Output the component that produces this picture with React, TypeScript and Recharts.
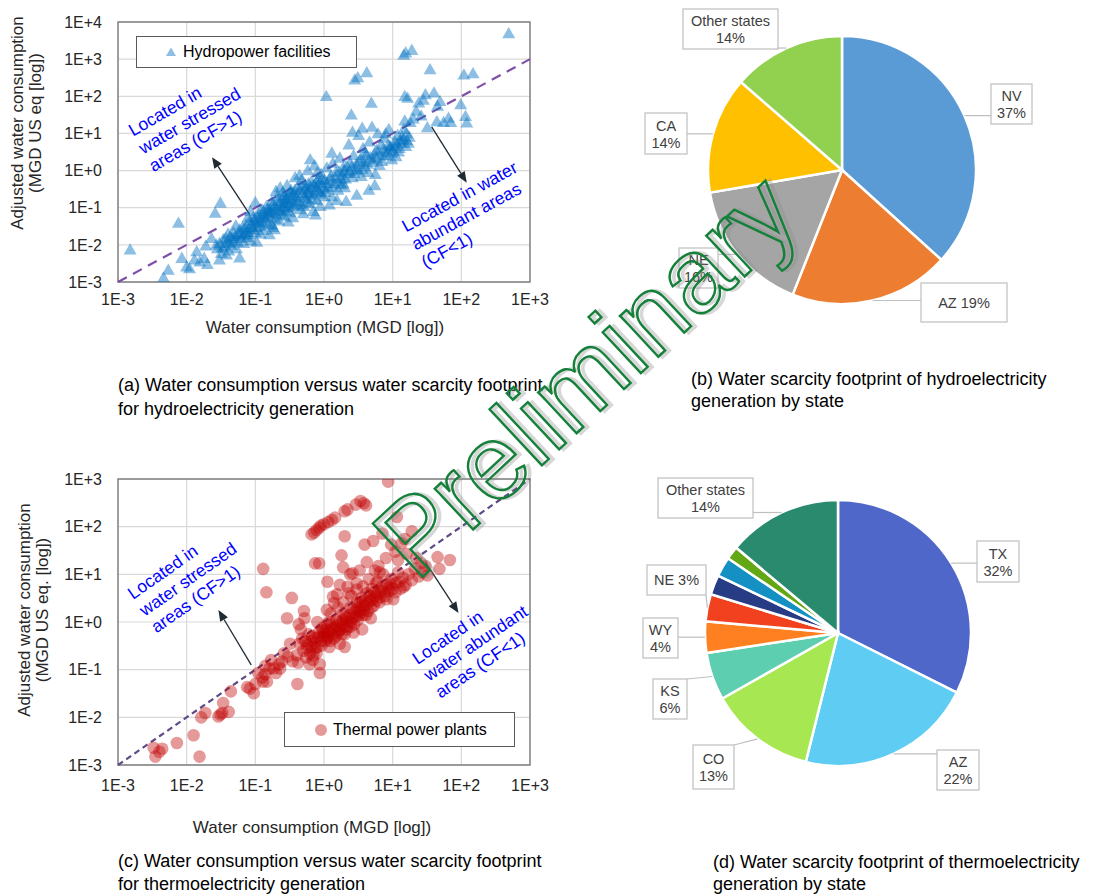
import {
  ScatterChart,
  Scatter,
  XAxis,
  YAxis,
  CartesianGrid,
  ReferenceLine,
  ReferenceArea,
  ReferenceDot,
  Legend,
  PieChart,
  Pie,
  Cell,
} from 'recharts'

const FONT = '"Liberation Sans", Arial, Helvetica, sans-serif'

type Pt = [number, number]

// ---- scatter data ----
const xTicks = [1e-3, 1e-2, 1e-1, 1, 1e1, 1e2, 1e3]
const hydroYTicks = [1e-3, 1e-2, 1e-1, 1, 1e1, 1e2, 1e3, 1e4]
const thermalYTicks = [1e-3, 1e-2, 1e-1, 1, 1e1, 1e2, 1e3]

// [water consumption, adjusted water consumption]
const hydroPoints: Pt[] = [
  [1.5e-3, 7.4e-3], [4.6e-3, 1.3e-3], [5.4e-3, 2.1e-3], [7.6e-3, 3.9e-2], [8.5e-3, 4.4e-3],
  [1.0e-2, 2.6e-3], [1.1e-2, 2.3e-3], [1.4e-2, 6.6e-3], [1.55e-2, 3.5e-3], [1.8e-2, 4.4e-3],
  [2.0e-2, 3.0e-3], [2.3e-2, 1.5e-2], [2.6e-2, 7.2e-2], [3.1e-2, 1.35e-1], [3.0e-2, 4.0e-3],
  [3.8e-2, 5.4e-3], [1.9e-2, 9.5e-3], [1.3e-2, 4.0e-3],
  [2.8e-2, 8.0e-3], [3.0e-2, 1.1e-2], [3.2e-2, 6.0e-3], [3.4e-2, 1.4e-2], [3.6e-2, 9.0e-3],
  [3.9e-2, 1.2e-2], [4.1e-2, 7.0e-3], [4.3e-2, 1.7e-2], [4.5e-2, 1.0e-2], [4.8e-2, 2.2e-2],
  [5.0e-2, 1.3e-2], [5.3e-2, 8.0e-3], [5.6e-2, 1.9e-2], [5.9e-2, 2.6e-2], [6.2e-2, 1.5e-2],
  [6.5e-2, 3.0e-2], [4.0e-2, 2.0e-2], [5.2e-2, 3.3e-2], [6.8e-2, 1.1e-2], [5.9e-2, 4.5e-3],
  [7.0e-2, 2.0e-2], [7.3e-2, 3.5e-2], [7.6e-2, 1.6e-2], [8.0e-2, 2.6e-2], [8.3e-2, 4.5e-2],
  [8.6e-2, 1.3e-2], [9.0e-2, 3.0e-2], [9.4e-2, 5.5e-2], [9.8e-2, 2.2e-2], [1.02e-1, 4.0e-2],
  [1.05e-1, 1.2e-2], [1.1e-1, 7.0e-2], [1.15e-1, 3.2e-2], [1.2e-1, 5.0e-2], [1.25e-1, 9.0e-2],
  [1.3e-1, 2.5e-2], [1.35e-1, 6.0e-2], [1.4e-1, 4.2e-2], [1.45e-1, 1.1e-1], [1.5e-1, 7.5e-2],
  [1.55e-1, 3.5e-2], [1.0e-1, 1.4e-1], [8.5e-2, 8.0e-2], [1.6e-1, 1.9e-2], [7.8e-2, 5.5e-2],
  [1.18e-1, 2.0e-2],
  [1.65e-1, 9.0e-2], [1.7e-1, 5.5e-2], [1.75e-1, 1.5e-1], [1.8e-1, 3.0e-2], [1.9e-1, 1.1e-1],
  [2.0e-1, 7.0e-2], [2.1e-1, 2.0e-1], [2.2e-1, 4.5e-2], [2.3e-1, 1.3e-1], [2.4e-1, 8.5e-2],
  [2.5e-1, 2.6e-1], [2.6e-1, 6.0e-2], [2.7e-1, 1.7e-1], [2.8e-1, 1.0e-1], [2.9e-1, 4.0e-1],
  [3.0e-1, 2.2e-1], [3.1e-1, 1.3e-1], [3.2e-1, 7.5e-2], [3.3e-1, 3.0e-1], [3.4e-1, 1.6e-1],
  [3.5e-1, 5.5e-2], [3.6e-1, 2.5e-1], [3.7e-1, 1.2e-1], [3.8e-1, 6.5e-1], [3.9e-1, 1.9e-1],
  [2.3e-1, 3.5e-1], [1.9e-1, 2.6e-2], [2.6e-1, 1.3e-1], [3.0e-1, 4.2e-2], [2.0e-1, 2.8e-1],
  [1.75e-1, 3.5e-2],
  [4.1e-1, 3.5e-1], [4.3e-1, 1.5e-1], [4.5e-1, 9.0e-2], [4.7e-1, 5.5e-1], [4.9e-1, 2.5e-1],
  [5.1e-1, 1.1e-1], [5.3e-1, 4.0e-1], [5.5e-1, 1.8e-1], [5.8e-1, 1.0], [6.0e-1, 3.0e-1],
  [6.2e-1, 1.3e-1], [6.5e-1, 5.0e-1], [6.8e-1, 2.2e-1], [7.0e-1, 8.0e-2], [7.3e-1, 1.4],
  [7.6e-1, 3.5e-1], [7.9e-1, 1.6e-1], [8.2e-1, 6.0e-1], [8.5e-1, 2.8e-1], [8.8e-1, 1.1e-1],
  [9.1e-1, 8.0e-1], [9.5e-1, 4.0e-1], [9.8e-1, 2.0e-1], [5.0e-1, 7.0e-2], [6.3e-1, 2.0],
  [4.4e-1, 7.5e-1], [7.5e-1, 6.5e-2], [5.7e-1, 2.5e-1], [8.0e-1, 9.0e-1],
  [1.02, 5.5e-1], [1.05, 2.6e-1], [1.08, 1.0e2], [1.1, 1.2], [1.15, 3.5e-1],
  [1.2, 1.2e-1], [1.25, 7.0e-1], [1.3, 2.0e-1], [1.35, 1.6], [1.4, 4.5e-1],
  [1.5, 9.0e-1], [1.55, 1.6e-1], [1.6, 3.0e-1], [1.7, 2.2], [1.8, 6.0e-1],
  [1.9, 1.2], [2.0, 3.5e-1], [2.1, 1.5e-1], [2.2, 8.5e-1], [2.3, 5.0],
  [2.4, 1.6], [2.5, 3.2e1], [2.6, 6.5e-1], [2.7, 2.6], [2.8, 2.8e2],
  [2.9, 1.1], [3.0, 2.2e-1], [3.1, 3.2e2], [3.2, 9.0], [1.3, 3.0],
  [1.9, 4.5e-1], [2.6, 1.1e1],
  [3.3, 1.8], [3.5, 7.0e-1], [3.7, 4.0], [3.9, 1.3], [4.2, 4.4e2],
  [4.1, 2.6], [4.4, 9.0e-1], [4.6, 6.0], [4.9, 6.6e1], [5.0, 1.5e1],
  [5.2, 2.0], [5.5, 4.0e-1], [5.8, 3.5], [6.1, 1.0e1], [6.4, 1.4],
  [6.8, 5.0], [7.2, 2.5], [7.6, 7.5], [7.9, 1.0e1], [8.3, 3.2],
  [8.8, 1.3e1], [9.2, 4.5], [9.7, 2.0], [3.6, 1.4e1], [4.5, 3.0e-1],
  [5.6, 8.0e-1],
  [1.02e1, 3.5], [1.08e1, 6.0], [1.12e1, 2.4], [1.18e1, 9.0], [1.25e1, 4.0],
  [1.3e1, 6.5], [1.37e1, 8.3], [1.45e1, 1.3e1], [1.5e1, 2.2e1], [1.55e1, 4.5],
  [1.6e1, 1.0e1], [1.7e1, 5.5], [1.45e1, 1.3e3], [1.55e1, 1.5e3], [1.9e1, 1.75e3],
  [1.5e1, 1.0e2], [1.65e1, 9.0e1], [1.8e1, 2.0e1], [9.3, 4.1],
  [2.2e1, 4.0e1], [2.4e1, 6.7e1], [3.0e1, 1.12e2], [3.5e1, 5.25e2], [3.2e1, 1.45e1],
  [4.0e1, 1.24e2], [4.4e1, 2.1e1], [4.9e1, 7.4e1], [5.5e1, 2.0e1], [6.5e1, 2.6e1],
  [7.0e1, 2.0e1], [9.8e1, 6.0e1], [1.09e2, 3.8e2], [1.15e2, 2.9e1], [1.2e2, 1.95e1],
  [1.48e2, 4.1e2], [4.9e2, 4.9e3], [2.8e1, 8.0e1], [2.6e1, 3.0e1], [2.0e1, 2.5e1],
  [4.5e1, 5.5e1],
  // dense core of the band
  [2.7e-2, 1.0e-2], [3.3e-2, 8.5e-3], [3.7e-2, 1.5e-2], [4.2e-2, 1.1e-2], [4.6e-2, 1.5e-2],
  [5.1e-2, 1.7e-2], [5.5e-2, 1.2e-2], [6.0e-2, 2.0e-2], [6.6e-2, 1.8e-2], [7.1e-2, 2.8e-2],
  [7.5e-2, 2.2e-2], [8.1e-2, 1.9e-2], [8.8e-2, 3.6e-2], [9.2e-2, 2.6e-2], [9.6e-2, 4.6e-2],
  [1.04e-1, 3.0e-2], [1.08e-1, 5.5e-2], [1.13e-1, 4.2e-2], [1.22e-1, 6.5e-2], [1.28e-1, 3.8e-2],
  [1.33e-1, 8.0e-2], [1.42e-1, 5.5e-2], [1.52e-1, 9.5e-2], [1.58e-1, 6.5e-2], [1.68e-1, 7.5e-2],
  [1.78e-1, 1.2e-1], [1.85e-1, 8.0e-2], [1.95e-1, 5.0e-2], [2.05e-1, 1.0e-1], [2.15e-1, 1.5e-1],
  [2.25e-1, 9.0e-2], [2.35e-1, 6.5e-2], [2.45e-1, 1.8e-1], [2.55e-1, 1.1e-1], [2.65e-1, 2.1e-1],
  [2.75e-1, 8.0e-2], [2.85e-1, 1.4e-1], [2.95e-1, 1.7e-1],
  [3.15e-1, 1.0e-1], [3.25e-1, 2.6e-1], [3.45e-1, 2.0e-1], [3.55e-1, 1.1e-1], [3.75e-1, 3.0e-1],
  [3.95e-1, 1.4e-1], [4.2e-1, 2.2e-1], [4.4e-1, 3.0e-1], [4.6e-1, 1.2e-1], [4.8e-1, 3.8e-1],
  [5.2e-1, 2.0e-1], [5.4e-1, 3.2e-1], [5.6e-1, 1.4e-1], [5.9e-1, 4.5e-1], [6.1e-1, 2.4e-1],
  [6.4e-1, 3.6e-1], [6.7e-1, 1.7e-1], [7.1e-1, 4.2e-1], [7.4e-1, 2.6e-1], [7.8e-1, 5.0e-1],
  [8.1e-1, 3.1e-1], [8.6e-1, 4.6e-1], [9.0e-1, 2.4e-1], [9.3e-1, 5.8e-1],
  [1.04, 3.2e-1], [1.12, 4.6e-1], [1.22, 6.0e-1], [1.33, 3.6e-1], [1.45, 6.5e-1],
  [1.58, 5.2e-1], [1.65, 9.5e-1], [1.75, 4.2e-1], [1.85, 7.5e-1], [1.95, 1.0],
  [2.05, 6.0e-1], [2.15, 1.3], [2.35, 9.5e-1], [2.55, 1.3], [2.75, 8.5e-1],
  [2.95, 1.5], [3.15, 1.0], [3.4, 2.1], [3.6, 1.1], [3.8, 1.7],
  [4.0, 3.0], [4.3, 1.5], [4.7, 2.3], [5.1, 1.7], [5.4, 2.8],
  [5.9, 2.2], [6.3, 3.2], [7.0, 1.8], [7.4, 3.8], [8.0, 2.6],
  [8.6, 4.8], [9.5, 3.0],
  [1.05e1, 4.6], [1.15e1, 5.2], [1.22e1, 3.2], [1.33e1, 5.5], [1.42e1, 7.0],
  [1.6e1, 6.5], [1.75e1, 8.0],
]

const thermalPoints: Pt[] = [
  [3.3e-3, 2.3e-3], [3.5e-3, 1.5e-3], [4.4e-3, 2.2e-3], [4.0e-3, 1.9e-3], [7.2e-3, 2.9e-3],
  [1.26e-2, 4.2e-3], [1.54e-2, 1.5e-3], [1.63e-2, 1.0e-2], [1.87e-2, 1.23e-2], [2.9e-2, 1.04e-2],
  [3.3e-2, 1.23e-2], [3.1e-2, 1.15e-2], [4.1e-2, 1.3e-2], [3.4e-2, 2.0e-2], [4.4e-2, 3.5e-2],
  [7.6e-2, 4.3e-2], [8.3e-2, 4.0e-2], [9.5e-2, 3.2e-2], [1.0e-1, 5.0e-2], [1.26e-1, 6.9e-2],
  [1.3e-1, 5.6e-2], [1.48e-1, 5.6e-2], [1.38e-1, 8.0e-2], [1.6e-1, 1.05e-1], [1.86e-1, 1.07e-1],
  [2.0e-1, 8.5e-2], [2.2e-1, 1.3e-1], [2.45e-1, 1.48e-1], [2.6e-1, 2.2e-1], [3.0e-1, 1.9e-1],
  [3.2e-1, 3.5e-1], [3.5e-1, 1.5e-1], [1.1e-1, 8.5e-2], [1.7e-1, 1.6e-1], [2.3e-1, 1.05e-1],
  [1.4e-1, 1.2e-1],
  [1.3e-1, 1.3e1], [1.45e-1, 4.2], [2.9e-1, 1.2], [3.4e-1, 3.2], [4.1e-1, 5.0e-2],
  [4.3e-1, 9.0e-1], [4.6e-1, 7.0e-1], [5.1e-1, 1.7], [5.2e-1, 1.2], [4.4e-1, 3.5e-1],
  [4.0e-1, 2.0e-1], [4.2e-1, 1.4e-1], [4.8e-1, 4.5e-1], [5.0e-1, 2.5e-1], [5.5e-1, 1.8e-1],
  [5.8e-1, 3.3e-1], [6.0e-1, 5.5e-1], [6.3e-1, 2.2e-1], [6.6e-1, 4.0e-1], [6.9e-1, 1.6e-1],
  [7.2e-1, 4.6e-1], [7.5e-1, 2.8e-1], [8.0e-1, 3.0e-1], [8.0e-1, 1.0], [8.4e-1, 6.0e-1],
  [8.7e-1, 1.3e-1], [8.7e-1, 8.5e-2], [9.0e-1, 4.0e-1], [9.4e-1, 7.5e-1], [9.7e-1, 5.0e-1],
  [7.0e-1, 2.0e-1], [6.2e-1, 1.3e-1],
  [6.6e-1, 6.9e1], [7.2e-1, 7.5e1], [7.8e-1, 8.5e1], [8.5e-1, 9.5e1], [1.0, 1.12e2],
  [1.15, 1.25e2], [1.3, 1.38e2], [1.45, 1.55e2], [2.0, 2.1e2], [2.2, 2.3e2],
  [2.9, 2.9e2], [3.4, 3.45e2], [3.8, 3.1e2], [4.1, 2.8e2], [8.6, 8.8e2],
  [9.0e-1, 1.05e2],
  [7.4e-1, 1.7e1], [8.5e-1, 1.7e1], [1.12, 7.0], [1.35, 3.4], [1.4, 2.5],
  [1.8, 2.5e1], [1.9, 1.4e1], [2.0, 6.3e1], [2.2, 5.5], [2.6, 1.05e1],
  [3.0, 6.5], [3.3, 1.2e1], [3.9, 4.2e1], [4.2, 1.8e1], [5.2, 5.0e1],
  [5.5, 1.2e1], [6.5, 1.1e1], [7.1, 7.2e1], [9.5, 4.2e1], [1.15e1, 1.6e2],
  [1.2e1, 2.0e1], [1.35e1, 4.5e1], [1.5e1, 5.5e1], [1.6e1, 2.7e1], [1.9e1, 8.0e1],
  [2.2e1, 2.2e1], [2.6e1, 1.7e1], [3.0e1, 1.5e1], [4.5e1, 2.3e1], [4.8e1, 1.3e1],
  [6.8e1, 2.0e1], [2.4, 1.0e1], [1.7, 6.0],
  [1.0, 6.0e-1], [1.05, 4.0e-1], [1.1, 9.0e-1], [1.15, 5.0e-1], [1.2, 3.0e-1],
  [1.3, 7.0e-1], [1.4, 4.5e-1], [1.5, 1.1], [1.6, 6.5e-1], [1.7, 3.5e-1],
  [1.8, 9.0e-1], [1.9, 1.5], [2.0, 5.5e-1], [2.1, 1.2], [2.2, 8.0e-1],
  [2.4, 2.0], [2.5, 1.0], [2.7, 6.0e-1], [2.8, 1.6], [3.0, 2.6],
  [3.1, 1.1], [3.3, 1.8], [3.5, 3.2], [3.7, 1.4], [3.9, 2.2],
  [4.2, 4.0], [4.4, 1.7], [4.7, 2.8], [5.0, 5.0], [5.3, 2.2],
  [5.6, 3.5], [6.0, 7.0], [6.4, 2.6], [6.8, 4.5], [7.3, 1.0e1],
  [7.8, 3.5], [8.3, 6.0], [9.0, 4.5], [9.6, 8.0], [1.02e1, 3.0],
  [1.1e1, 6.5], [1.2e1, 1.1e1], [1.3e1, 5.0], [1.4e1, 8.5], [1.55e1, 6.0],
  [1.7e1, 1.0e1], [1.9e1, 7.5], [2.1e1, 1.3e1], [2.4e1, 9.0], [2.7e1, 1.1e1],
  [3.2e1, 9.5], [2.0, 3.0e-1], [1.25, 1.5], [3.6, 7.0e-1], [4.8, 1.2],
  [2.3, 4.0], [1.6, 2.0], [6.2, 1.5e1], [8.0, 2.2e1], [1.1e1, 3.0e1],
  // dense cluster
  [1.02, 5.0e-1], [1.08, 7.0e-1], [1.12, 4.5e-1], [1.18, 6.2e-1], [1.24, 4.0e-1],
  [1.28, 8.5e-1], [1.35, 5.5e-1], [1.42, 7.5e-1], [1.48, 5.0e-1], [1.55, 8.5e-1],
  [1.62, 6.0e-1], [1.68, 1.0], [1.75, 7.0e-1], [1.82, 5.5e-1], [1.88, 1.1],
  [1.95, 8.0e-1], [2.05, 1.3], [2.12, 7.0e-1], [2.25, 1.0], [2.35, 1.4],
  [2.45, 8.0e-1], [2.6, 1.2], [2.65, 1.8], [2.75, 9.0e-1], [2.9, 1.3],
  [3.05, 2.0], [3.2, 1.4], [3.35, 2.6], [3.45, 1.6], [3.6, 2.3],
  [3.8, 1.8], [4.0, 2.9], [4.1, 1.4], [4.3, 2.4], [4.6, 3.6],
  [4.9, 2.0], [5.1, 3.0], [5.4, 4.2], [5.8, 2.8], [6.1, 4.0],
  [6.6, 3.3], [7.0, 5.5], [7.5, 4.2], [8.1, 3.0], [8.7, 5.2],
  [9.3, 6.5], [1.0e1, 5.0], [1.1e1, 4.2], [1.25e1, 7.0], [1.45e1, 5.5],
  [5.3e-1, 4.0e-1], [6.5e-1, 3.0e-1], [7.3e-1, 3.6e-1], [7.8e-1, 2.2e-1], [8.3e-1, 4.8e-1],
  [9.2e-1, 3.2e-1], [9.6e-1, 6.5e-1], [6.8e-1, 5.0e-1], [5.6e-1, 2.8e-1],
  [2.5, 3.5], [3.0, 4.8], [1.9, 2.6], [4.5, 8.0], [5.7, 6.5],
  [3.7, 5.6], [1.55, 3.8], [1.2, 1.0], [1.1, 1.8],
]

// ---- pie data ----
const hydroStates = ['NV', 'AZ', 'NE', 'CA', 'Other states']
const hydroShares = [36.7, 19.3, 16.3, 14.1, 13.6]
const hydroColors = ['#5B9BD5', '#ED7D31', '#A5A5A5', '#FFC000', '#92D050']

const thermoStates = ['TX', 'AZ', 'CO', 'KS', 'WY', 'NE', '', '', '', 'Other states']
const thermoShares = [32.4, 21.5, 12.9, 5.8, 3.8, 3.3, 2.4, 2.4, 1.6, 13.9]
const thermoColors = [
  '#4F67C9', '#5ECCF3', '#A7E852', '#5DCEB0', '#FF8021',
  '#F1411F', '#283C85', '#1490C3', '#63A714', '#2A8A6E',
]

interface Callout { dx: number; dy: number; w: number; h: number; inline?: boolean }

// callout boxes, placed relative to the pie centre
const hydroCallouts: (Callout | null)[] = [
  { dx: 149, dy: -86, w: 41, h: 40 },
  { dx: 79, dy: 113, w: 86, h: 39, inline: true },
  { dx: -163, dy: 78, w: 39, h: 40 },
  { dx: -197, dy: -57, w: 42, h: 41 },
  { dx: -159, dy: -161, w: 95, h: 40 },
]
const thermoCallouts: (Callout | null)[] = [
  { dx: 139, dy: -92, w: 42, h: 41 },
  { dx: 99, dy: 117, w: 42, h: 40 },
  { dx: -145, dy: 112, w: 41, h: 44 },
  { dx: -185, dy: 46, w: 34, h: 40 },
  { dx: -195, dy: -15, w: 35, h: 40 },
  { dx: -191, dy: -68, w: 59, h: 30, inline: true },
  null,
  null,
  null,
  { dx: -180, dy: -155, w: 95, h: 40 },
]

const expLabel = (v: number) => {
  const e = Math.round(Math.log10(v))
  return `1E${e < 0 ? '-' : '+'}${Math.abs(e)}`
}

const Triangle = ({ cx, cy }: any) => (
  <polygon
    points={`${cx},${cy - 6.5} ${cx - 6.5},${cy + 4.8} ${cx + 6.5},${cy + 4.8}`}
    fill="#0070C0"
    fillOpacity={0.45}
  />
)

const Dot = ({ cx, cy }: any) => <circle cx={cx} cy={cy} r={6.3} fill="#C00000" fillOpacity={0.4} />

const Arrow = ({ x1, y1, x2, y2 }: any) => {
  const a = Math.atan2(y2 - y1, x2 - x1)
  const bx = x2 - 11 * Math.cos(a)
  const by = y2 - 11 * Math.sin(a)
  const s = Math.sin(a)
  const c = Math.cos(a)
  return (
    <g>
      <line x1={x1} y1={y1} x2={bx} y2={by} stroke="#1f2a33" strokeWidth={1.3} />
      <polygon
        points={`${x2},${y2} ${bx - 4.5 * s},${by + 4.5 * c} ${bx + 4.5 * s},${by - 4.5 * c}`}
        fill="#1f2a33"
      />
    </g>
  )
}

const NoteText = ({ cx, cy, lines, angle }: any) => (
  <g transform={`rotate(${angle}, ${cx}, ${cy})`}>
    {lines.map((t: string, i: number) => (
      <text key={i} x={cx} y={cy + i * 20.5} fill="#0000FF" fontSize={17.5} fontFamily={FONT}>
        {t}
      </text>
    ))}
  </g>
)

const YTitle = ({ lines, xs, cy }: any) => (
  <g>
    {lines.map((t: string, i: number) => (
      <text
        key={i}
        x={xs[i]}
        y={cy}
        transform={`rotate(-90, ${xs[i]}, ${cy})`}
        textAnchor="middle"
        fontSize={17}
        fill="#262626"
        fontFamily={FONT}
      >
        {t}
      </text>
    ))}
  </g>
)

const XTitle = ({ x, y, text }: any) => (
  <text x={x} y={y} textAnchor="middle" fontSize={17} fill="#262626" fontFamily={FONT}>
    {text}
  </text>
)

interface Note { at: Pt; angle: number; lines: string[] }

interface ScatterPanelProps {
  points: Pt[]
  yTicks: number[]
  height: number
  xAxisHeight: number
  xTickMargin: number
  marker: 'triangle' | 'circle'
  legendName: string
  legendBox: { left: number; top: number; width: number; height: number; pad: number }
  yTitle: string[]
  yTitleXs: number[]
  yTitleCy: number
  xTitleX: number
  xTitleY: number
  notes: Note[]
  arrows: [Pt, Pt][]
  diagColor: string
  diagDash: string
}

const ScatterPanel = (p: ScatterPanelProps) => {
  const data = p.points.map(([x, y]) => ({ x, y }))
  const yMin = p.yTicks[0]
  const yMax = p.yTicks[p.yTicks.length - 1]
  const lb = p.legendBox
  return (
    <ScatterChart width={560} height={p.height} margin={{ top: 22, right: 30, bottom: 0, left: 0 }}>
      <CartesianGrid stroke="#D9D9D9" strokeWidth={1.2} />
      <XAxis
        type="number"
        dataKey="x"
        scale="log"
        domain={[1e-3, 1e3]}
        ticks={xTicks}
        interval={0}
        allowDataOverflow
        tickFormatter={expLabel}
        axisLine={false}
        tickLine={false}
        tickMargin={p.xTickMargin}
        height={p.xAxisHeight}
        tick={{ fontSize: 16, fill: '#262626', fontFamily: FONT }}
      />
      <YAxis
        type="number"
        dataKey="y"
        scale="log"
        domain={[yMin, yMax]}
        ticks={p.yTicks}
        interval={0}
        allowDataOverflow
        tickFormatter={expLabel}
        axisLine={false}
        tickLine={false}
        tickMargin={10}
        width={118}
        tick={{ fontSize: 16, fill: '#262626', fontFamily: FONT }}
      />
      <Scatter
        data={data}
        shape={p.marker === 'triangle' ? (s: any) => <Triangle {...s} /> : (s: any) => <Dot {...s} />}
        isAnimationActive={false}
      />
      <ReferenceArea
        x1={1e-3}
        x2={1e3}
        y1={yMin}
        y2={yMax}
        fill="none"
        fillOpacity={0}
        stroke="#7F7F7F"
        strokeWidth={1.4}
        ifOverflow="visible"
      />
      <ReferenceLine
        segment={[{ x: 1e-3, y: 1e-3 }, { x: 1e3, y: 1e3 }]}
        stroke={p.diagColor}
        strokeWidth={2.2}
        strokeDasharray={p.diagDash}
        ifOverflow="visible"
      />
      {p.arrows.map(([a, b], i) => (
        <ReferenceLine
          key={`arr${i}`}
          segment={[{ x: a[0], y: a[1] }, { x: b[0], y: b[1] }]}
          ifOverflow="visible"
          shape={(s: any) => <Arrow {...s} />}
        />
      ))}
      {p.notes.map((n, i) => (
        <ReferenceDot
          key={`note${i}`}
          x={n.at[0]}
          y={n.at[1]}
          r={0}
          ifOverflow="visible"
          shape={(s: any) => <NoteText cx={s.cx} cy={s.cy} lines={n.lines} angle={n.angle} />}
        />
      ))}
      <ReferenceDot
        x={1e-3}
        y={yMin}
        r={0}
        ifOverflow="visible"
        shape={() => (
          <g>
            <YTitle lines={p.yTitle} xs={p.yTitleXs} cy={p.yTitleCy} />
            <XTitle x={p.xTitleX} y={p.xTitleY} text="Water consumption (MGD [log])" />
          </g>
        )}
      />
      <Legend
        layout="horizontal"
        verticalAlign="middle"
        align="center"
        wrapperStyle={{ left: lb.left, top: lb.top, width: lb.width, height: lb.height }}
        content={() => (
          <div
            style={{
              boxSizing: 'border-box',
              width: lb.width,
              height: lb.height,
              border: '1.3px solid #595959',
              background: '#fff',
              display: 'flex',
              alignItems: 'center',
              paddingLeft: lb.pad,
              fontSize: 16,
              fontFamily: FONT,
              color: '#000',
            }}
          >
            <svg width={14} height={14} style={{ marginRight: 5 }}>
              {p.marker === 'triangle' ? (
                <polygon points="7,2.5 2,11 12,11" fill="#0070C0" fillOpacity={0.45} />
              ) : (
                <circle cx={7} cy={7} r={6} fill="#C00000" fillOpacity={0.4} />
              )}
            </svg>
            <span>{p.legendName}</span>
          </div>
        )}
      />
    </ScatterChart>
  )
}

const renderCallout = (layout: (Callout | null)[]) => (props: any) => {
  const { cx, cy, midAngle, outerRadius, index, name, value } = props
  const box = layout[index]
  if (!box) return null
  const rad = Math.PI / 180
  const ex = cx + outerRadius * Math.cos(-midAngle * rad)
  const ey = cy + outerRadius * Math.sin(-midAngle * rad)
  const bx = cx + box.dx
  const by = cy + box.dy
  const sx = Math.min(Math.max(ex, bx), bx + box.w)
  const sy = Math.min(Math.max(ey, by), by + box.h)
  const pct = `${Math.round(value)}%`
  const mid = bx + box.w / 2
  const txt = { textAnchor: 'middle' as const, fontSize: 14.5, fill: '#404040', fontFamily: FONT }
  return (
    <g>
      <line x1={sx} y1={sy} x2={ex} y2={ey} stroke="#BFBFBF" strokeWidth={1.2} />
      <rect x={bx} y={by} width={box.w} height={box.h} fill="#fff" stroke="#BFBFBF" strokeWidth={1.2} />
      {box.inline ? (
        <text x={mid} y={by + box.h / 2 + 5} {...txt}>{`${name} ${pct}`}</text>
      ) : (
        <>
          <text x={mid} y={by + box.h / 2 - 3} {...txt}>{name}</text>
          <text x={mid} y={by + box.h / 2 + 14} {...txt}>{pct}</text>
        </>
      )}
    </g>
  )
}

interface PiePanelProps {
  names: string[]
  values: number[]
  colors: string[]
  callouts: (Callout | null)[]
  cx: number
  cy: number
  r: number
}

const PiePanel = ({ names, values, colors, callouts, cx, cy, r }: PiePanelProps) => {
  const data = names.map((name, i) => ({ name, value: values[i] }))
  return (
    <PieChart width={496} height={345} margin={{ top: 0, right: 0, bottom: 0, left: 0 }}>
      <Pie
        data={data}
        dataKey="value"
        nameKey="name"
        cx={cx}
        cy={cy}
        outerRadius={r}
        startAngle={90}
        endAngle={-270}
        stroke="#fff"
        strokeWidth={2.5}
        labelLine={false}
        label={renderCallout(callouts)}
        isAnimationActive={false}
      >
        {data.map((d, i) => (
          <Cell key={d.name + i} fill={colors[i]} />
        ))}
      </Pie>
    </PieChart>
  )
}

const caption = (left: number, top: number, lh: number, lines: string[]) => (
  <div style={{ position: 'absolute', left, top, fontSize: 18, lineHeight: `${lh}px`, color: '#000', whiteSpace: 'nowrap' }}>
    {lines.map((l, i) => (
      <div key={i}>{l}</div>
    ))}
  </div>
)

export default function App() {
  return (
    <div
      style={{
        position: 'absolute',
        left: 0,
        top: 0,
        width: 1096,
        height: 894,
        background: '#fff',
        fontFamily: FONT,
        overflow: 'hidden',
      }}
    >
      <div style={{ position: 'absolute', left: 0, top: 0 }}>
        <ScatterPanel
          points={hydroPoints}
          yTicks={hydroYTicks}
          height={345}
          xAxisHeight={63}
          xTickMargin={6}
          marker="triangle"
          legendName="Hydropower facilities"
          legendBox={{ left: 136, top: 36, width: 221, height: 32, pad: 27 }}
          yTitle={['Adjusted water consumption', '(MGD US eq [log])']}
          yTitleXs={[22.5, 40.5]}
          yTitleCy={123}
          xTitleX={325}
          xTitleY={333}
          notes={[
            { at: [1.66e-3, 8.2], angle: -30, lines: ['Located in', 'water stressed', 'areas (CF>1)'] },
            { at: [15.6, 2.14e-2], angle: -28.5, lines: ['Located in water', 'abundant areas', '(CF<1)'] },
          ]}
          arrows={[
            [[8.3e-2, 6.5e-2], [2.34e-2, 2.3]],
            [[37, 15], [120, 0.47]],
          ]}
          diagColor="#7F4FA8"
          diagDash="10 7"
        />
      </div>

      <div style={{ position: 'absolute', left: 0, top: 457 }}>
        <ScatterPanel
          points={thermalPoints}
          yTicks={thermalYTicks}
          height={385}
          xAxisHeight={77}
          xTickMargin={9}
          marker="circle"
          legendName="Thermal power plants"
          legendBox={{ left: 284, top: 255, width: 231, height: 35, pad: 29 }}
          yTitle={['Adjusted water consumption', '(MGD US eq. [log])']}
          yTitleXs={[30, 48]}
          yTitleCy={153}
          xTitleX={312}
          xTitleY={376}
          notes={[
            { at: [1.66e-3, 2.9], angle: -35, lines: ['Located in', 'water stressed', 'areas (CF>1)'] },
            { at: [23, 0.126], angle: -34, lines: ['Located in', 'water abundant', 'areas (CF<1)'] },
          ]}
          arrows={[
            [[8.7e-2, 0.126], [2.9e-2, 1.78]],
            [[30, 18], [91, 1.55]],
          ]}
          diagColor="#5E4A87"
          diagDash="6 4"
        />
      </div>

      <div style={{ position: 'absolute', left: 600, top: 0 }}>
        <PiePanel names={hydroStates} values={hydroShares} colors={hydroColors} callouts={hydroCallouts} cx={242} cy={170} r={134} />
      </div>
      <div style={{ position: 'absolute', left: 600, top: 460 }}>
        <PiePanel names={thermoStates} values={thermoShares} colors={thermoColors} callouts={thermoCallouts} cx={238} cy={173} r={133} />
      </div>

      {caption(118, 373, 24, ['(a) Water consumption versus water scarcity footprint', 'for hydroelectricity generation'])}
      {caption(691, 368, 22, ['(b) Water scarcity footprint of hydroelectricity', 'generation by state'])}
      {caption(118, 850, 23, ['(c) Water consumption versus water scarcity footprint', 'for thermoelectricity generation'])}
      {caption(713, 851, 22, ['(d) Water scarcity footprint of thermoelectricity', 'generation by state'])}

      <svg width={1096} height={894} style={{ position: 'absolute', left: 0, top: 0, pointerEvents: 'none' }}>
        <g transform="translate(610 402) rotate(-43)">
          <text
            x={3}
            y={3}
            textAnchor="middle"
            fontSize={106}
            fontFamily={FONT}
            fill="none"
            stroke="#8c8c8c"
            strokeOpacity={0.35}
            strokeWidth={3.5}
          >
            Preliminary
          </text>
          <text textAnchor="middle" fontSize={106} fontFamily={FONT} fill="none" stroke="#14803A" strokeWidth={2.4}>
            Preliminary
          </text>
        </g>
      </svg>
    </div>
  )
}
